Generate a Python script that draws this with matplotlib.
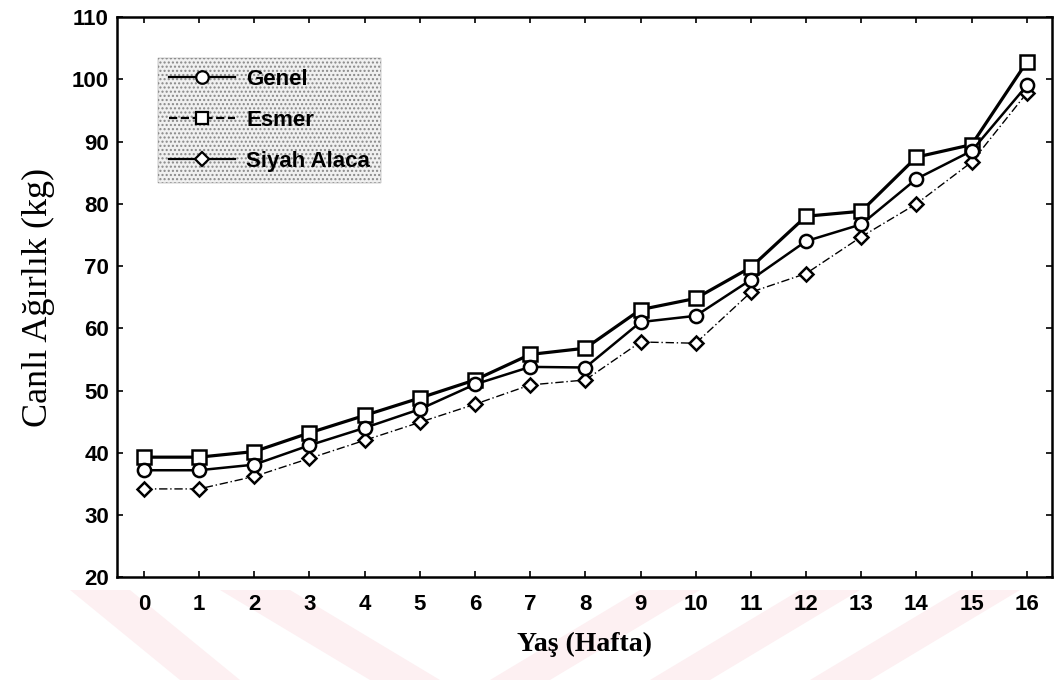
import numpy as np
import matplotlib
matplotlib.use("Agg")
import matplotlib.pyplot as plt
from matplotlib.lines import Line2D
from matplotlib.patches import Polygon

# Canlı ağırlık (kg) by age (week)
WEEKS = list(range(17))
GENEL = [37.2, 37.2, 38.1, 41.2, 44.0, 47.0, 51.0, 53.8, 53.7, 61.0, 62.0,
         67.8, 74.0, 76.7, 84.0, 88.5, 99.0]
ESMER = [39.3, 39.3, 40.2, 43.2, 46.0, 48.8, 51.7, 55.8, 56.8, 63.0, 64.8,
         69.8, 78.0, 78.8, 87.5, 89.5, 102.8]
SIYAH = [34.2, 34.2, 36.2, 39.1, 42.0, 44.9, 47.8, 50.9, 51.7, 57.8, 57.6,
         65.8, 68.8, 74.7, 80.0, 86.7, 97.8]
LABELS = ["Genel", "Esmer", "Siyah Alaca"]
YTICKS = list(range(20, 111, 10))

fig = plt.figure(figsize=(10.57, 6.8), dpi=100)

# very faint pink watermark stripes behind the bottom area
wm = "#fdf0f2"
for x0, x1, dx in [(70, 130, 110), (220, 290, 150), (640, 700, -150),
                   (800, 860, -150), (960, 1020, -150)]:
    pts = [(x0, 590), (x1, 590), (x1 + dx, 680), (x0 + dx, 680)]
    fig.patches.append(Polygon([(px / 1057, 1 - py / 680) for px, py in pts],
                               closed=True, transform=fig.transFigure,
                               facecolor=wm, edgecolor="none", zorder=-5))

ax = fig.add_axes([0.111, 0.151, 0.884, 0.824])
ax.set_zorder(2)
ax.patch.set_alpha(0)
ax.plot(WEEKS, ESMER, color="black", lw=2.3, marker="s", ms=9.5,
        mfc="white", mec="black", mew=1.8, zorder=3)
ax.plot(WEEKS, GENEL, color="black", lw=1.8, marker="o", ms=9.5,
        mfc="white", mec="black", mew=1.8, zorder=4)
ax.plot(WEEKS, SIYAH, color="black", lw=1.0, ls=(0, (6, 2, 1, 2)), marker="D",
        ms=7, mfc="white", mec="black", mew=1.8, zorder=2)

ax.set_xlim(-0.48, 16.45)
ax.set_ylim(20, 110)
ax.set_xticks(WEEKS)
ax.set_yticks(YTICKS)
ax.set_xticklabels([str(w) for w in WEEKS], family="Liberation Sans",
                   fontsize=16, fontweight="bold")
ax.set_yticklabels([str(v) for v in YTICKS], family="Liberation Sans",
                   fontsize=16, fontweight="bold")
ax.tick_params(direction="in", length=4, width=1.2, top=True, right=True)
ax.tick_params(axis="x", pad=12)
ax.tick_params(axis="y", pad=6)
for sp in ax.spines.values():
    sp.set_linewidth(1.8)

ax.set_ylabel("Canlı Ağırlık (kg)", family="Liberation Serif", fontsize=26,
              labelpad=12)
ax.set_xlabel("Yaş (Hafta)", family="Liberation Serif", fontsize=20,
              fontweight="bold", labelpad=12)

handles = [
    Line2D([], [], color="black", lw=1.6, marker="o", ms=9, mfc="white", mew=1.6),
    Line2D([], [], color="black", lw=1.6, ls="--", marker="s", ms=9, mfc="white", mew=1.6),
    Line2D([], [], color="black", lw=1.6, marker="D", ms=7, mfc="white", mew=1.6),
]
leg = ax.legend(handles, LABELS, loc="upper left", bbox_to_anchor=(0.043, 0.927),
                borderaxespad=0,
                prop={"family": "Liberation Sans", "weight": "bold", "size": 16},
                fancybox=False, frameon=True, handlelength=3.0,
                borderpad=0.5, labelspacing=0.9, handletextpad=0.5)
fr = leg.get_frame()
fr.set_facecolor("#f0f0f0")
fr.set_edgecolor("#888888")
fr.set_hatch("....")
fr.set_linewidth(0.3)
fr.set_alpha(None)

fig.savefig("out.png", dpi=100)
